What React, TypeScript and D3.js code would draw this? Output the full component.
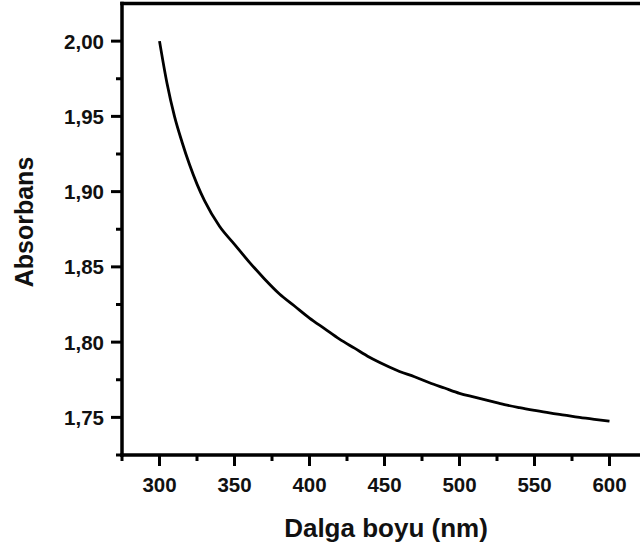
import * as d3 from 'd3';
import React, { useEffect, useRef } from 'react';

// spectrum
const wavelengths = [
    300, 305, 310, 315, 320, 325, 330, 340, 350, 360, 370, 380, 390, 400, 410,
    420, 430, 440, 450, 460, 470, 480, 490, 500, 510, 520, 530, 540, 550, 560,
    570, 580, 590, 600,
];
const absorbance = [
    2.0, 1.972, 1.95, 1.933, 1.918, 1.905, 1.894, 1.877, 1.865, 1.853, 1.842,
    1.832, 1.824, 1.816, 1.809, 1.802, 1.796, 1.79, 1.785, 1.7805, 1.777,
    1.773, 1.7695, 1.766, 1.7635, 1.761, 1.7585, 1.7565, 1.7547, 1.753,
    1.7515, 1.75, 1.7487, 1.7475,
];

const xMajorTicks = [300, 350, 400, 450, 500, 550, 600];
const xMinorTicks = [275, 325, 375, 425, 475, 525, 575];
const yMajorTicks = [1.75, 1.8, 1.85, 1.9, 1.95, 2.0];
const yMinorTicks = [1.725, 1.775, 1.825, 1.875, 1.925, 1.975];

const WIDTH = 640;
const HEIGHT = 548;
const FONT = 'Arial, "Liberation Sans", sans-serif';
const INK = '#111';

const fmt = (v: number) => v.toFixed(2).replace('.', ',');

const App: React.FC = () => {
    const svgRef = useRef<SVGSVGElement | null>(null);

    useEffect(() => {
        if (!svgRef.current) return;
        const svg = d3.select(svgRef.current);
        svg.selectAll('*').remove();

        const x = d3.scaleLinear().domain([275, 625]).range([122, 647]);
        const y = d3.scaleLinear().domain([1.725, 2.025]).range([455, 3.5]);

        const left = x(275);
        const bottom = y(1.725);
        const top = y(2.025);

        // frame: top, left, bottom (right side is cut off)
        const frame = [
            [left - 1.75, top, WIDTH + 10, top],
            [left, top - 1.75, left, bottom + 1.75],
            [left - 1.75, bottom, WIDTH + 10, bottom],
        ];
        frame.forEach(([x1, y1, x2, y2]) => {
            svg.append('line')
                .attr('x1', x1)
                .attr('y1', y1)
                .attr('x2', x2)
                .attr('y2', y2)
                .attr('stroke', '#000')
                .attr('stroke-width', 3.5);
        });

        // x ticks
        xMajorTicks.forEach((t) => {
            svg.append('line')
                .attr('x1', x(t))
                .attr('x2', x(t))
                .attr('y1', bottom)
                .attr('y2', bottom + 11)
                .attr('stroke', '#000')
                .attr('stroke-width', 3);
            svg.append('text')
                .attr('x', x(t))
                .attr('y', 492)
                .attr('text-anchor', 'middle')
                .attr('font-family', FONT)
                .attr('font-weight', 'bold')
                .attr('font-size', 20.5)
                .attr('fill', INK)
                .text(String(t));
        });
        xMinorTicks.forEach((t) => {
            svg.append('line')
                .attr('x1', x(t))
                .attr('x2', x(t))
                .attr('y1', bottom)
                .attr('y2', bottom + 6)
                .attr('stroke', '#000')
                .attr('stroke-width', 3);
        });

        // y ticks
        yMajorTicks.forEach((t) => {
            svg.append('line')
                .attr('x1', left)
                .attr('x2', left - 11)
                .attr('y1', y(t))
                .attr('y2', y(t))
                .attr('stroke', '#000')
                .attr('stroke-width', 3);
            svg.append('text')
                .attr('x', 104)
                .attr('y', y(t))
                .attr('dy', '0.36em')
                .attr('text-anchor', 'end')
                .attr('font-family', FONT)
                .attr('font-weight', 'bold')
                .attr('font-size', 20.5)
                .attr('fill', INK)
                .text(fmt(t));
        });
        yMinorTicks.forEach((t) => {
            svg.append('line')
                .attr('x1', left)
                .attr('x2', left - 6)
                .attr('y1', y(t))
                .attr('y2', y(t))
                .attr('stroke', '#000')
                .attr('stroke-width', 3);
        });

        // axis titles
        svg.append('text')
            .attr('x', 386)
            .attr('y', 537)
            .attr('text-anchor', 'middle')
            .attr('font-family', FONT)
            .attr('font-weight', 'bold')
            .attr('font-size', 26)
            .attr('fill', INK)
            .text('Dalga boyu (nm)');
        svg.append('text')
            .attr('transform', 'translate(33, 222) rotate(-90)')
            .attr('text-anchor', 'middle')
            .attr('font-family', FONT)
            .attr('font-weight', 'bold')
            .attr('font-size', 25)
            .attr('fill', INK)
            .text('Absorbans');

        // spectrum
        const points: [number, number][] = wavelengths.map((w, i) => [
            w,
            absorbance[i],
        ]);
        const line = d3
            .line<[number, number]>()
            .x((d) => x(d[0]))
            .y((d) => y(d[1]))
            .curve(d3.curveMonotoneX);
        svg.append('path')
            .datum(points)
            .attr('d', line)
            .attr('fill', 'none')
            .attr('stroke', '#000')
            .attr('stroke-width', 2.8)
            .attr('stroke-linejoin', 'round');
    }, []);

    return (
        <div style={{ position: 'absolute', left: 0, top: 0 }}>
            <svg
                ref={svgRef}
                width={WIDTH}
                height={HEIGHT}
                style={{ display: 'block', background: '#fff' }}
            />
        </div>
    );
};

export default App;
